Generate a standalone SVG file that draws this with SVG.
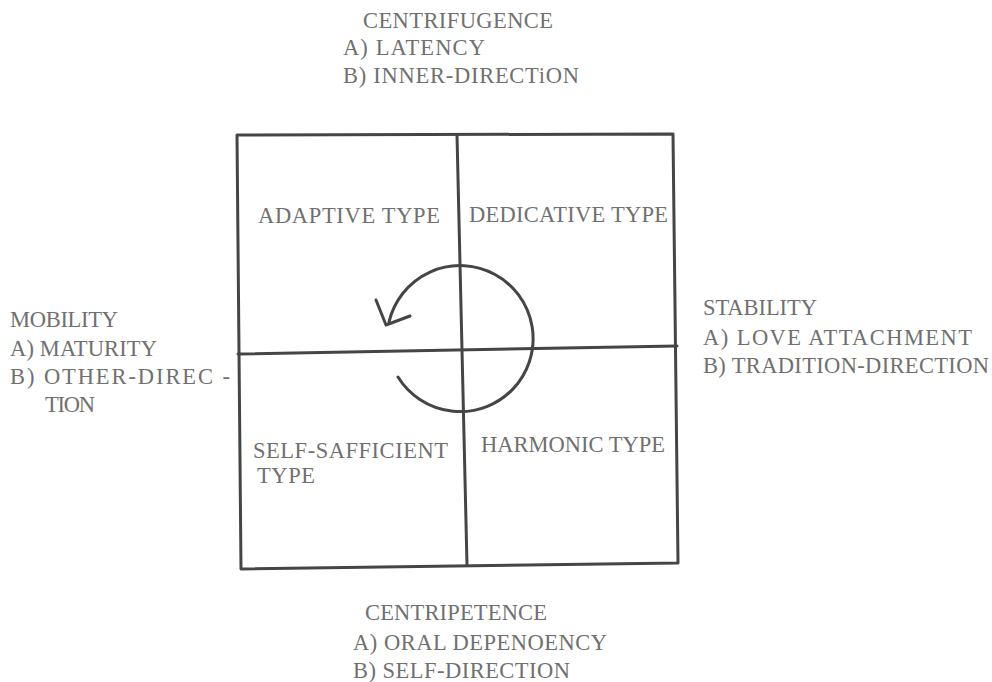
<svg xmlns="http://www.w3.org/2000/svg" width="992" height="682" viewBox="0 0 992 682">
<style>
text{font-family:"Liberation Serif","Times New Roman",serif;font-size:22.5px;fill:#707070;}
.ln{stroke:#454545;stroke-width:3;fill:none;stroke-linecap:round;stroke-linejoin:round;}
</style>
<rect width="992" height="682" fill="#ffffff"/>
<g id="frame">
<path class="ln" d="M237,135 L673,134 L678,563 L241,569 Z"/>
</g>
<g id="connectors">
<path class="ln" d="M457,135 L462,350 L467,565"/>
<path class="ln" d="M238,354 L677,346"/>
<path class="ln" d="M398,377 A73,73 0 1 0 389,322"/>
<path class="ln" d="M376,300 L386,325 L410,316"/>
</g>
<g id="top-label">
<text x="363" y="28" textLength="190" lengthAdjust="spacing">CENTRIFUGENCE</text>
<text x="343" y="55" textLength="142" lengthAdjust="spacing">A) LATENCY</text>
<text x="343" y="83" textLength="236" lengthAdjust="spacing">B) INNER-DIRECTiON</text>
</g>
<g id="left-label">
<text x="10" y="327" textLength="108" lengthAdjust="spacing">MOBILITY</text>
<text x="10" y="356" textLength="147" lengthAdjust="spacing">A) MATURITY</text>
<text x="10" y="384" textLength="220" lengthAdjust="spacing">B) OTHER-DIREC -</text>
<text x="45" y="412" textLength="50" lengthAdjust="spacing">TION</text>
</g>
<g id="right-label">
<text x="703" y="315" textLength="114" lengthAdjust="spacing">STABILITY</text>
<text x="703" y="345" textLength="269" lengthAdjust="spacing">A) LOVE ATTACHMENT</text>
<text x="703" y="373" textLength="286" lengthAdjust="spacing">B) TRADITION-DIRECTION</text>
</g>
<g id="bottom-label">
<text x="365" y="620" textLength="182" lengthAdjust="spacing">CENTRIPETENCE</text>
<text x="353" y="650" textLength="254" lengthAdjust="spacing">A) ORAL DEPENOENCY</text>
<text x="353" y="678" textLength="217" lengthAdjust="spacing">B) SELF-DIRECTION</text>
</g>
<g id="adaptive">
<text x="258" y="223" textLength="182" lengthAdjust="spacing">ADAPTIVE TYPE</text>
</g>
<g id="dedicative">
<text x="469" y="222" textLength="199" lengthAdjust="spacing">DEDICATIVE TYPE</text>
</g>
<g id="self-sufficient">
<text x="253" y="458" textLength="195" lengthAdjust="spacing">SELF-SAFFICIENT</text>
<text x="257" y="483" textLength="58" lengthAdjust="spacing">TYPE</text>
</g>
<g id="harmonic">
<text x="481" y="452" textLength="184" lengthAdjust="spacing">HARMONIC TYPE</text>
</g>
</svg>
